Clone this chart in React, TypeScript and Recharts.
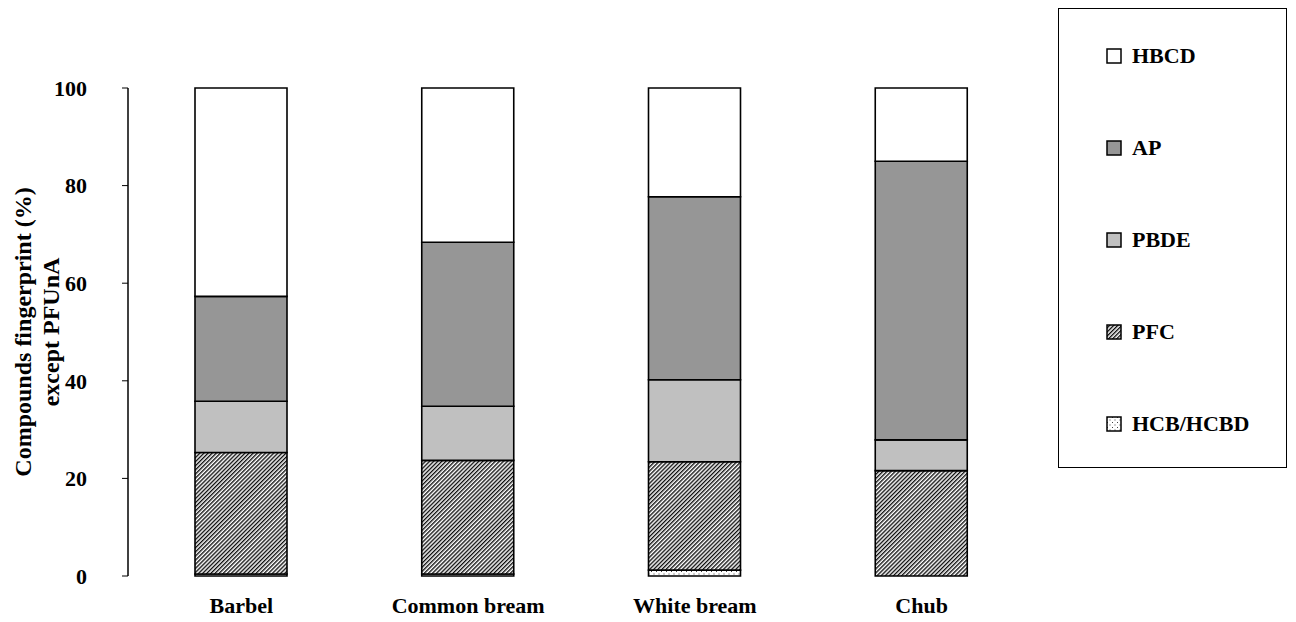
import React from 'react';
import { BarChart, Bar, XAxis, YAxis } from 'recharts';

const categories = ['Barbel', 'Common bream', 'White bream', 'Chub'];
const hcb = [0.4, 0.4, 1.2, 0];
const pfc = [24.9, 23.3, 22.2, 21.6];
const pbde = [10.5, 11.1, 16.8, 6.3];
const ap = [21.5, 33.6, 37.5, 57.1];
const hbcd = [42.7, 31.6, 22.3, 15.0];
const yTicks = [0, 20, 40, 60, 80, 100];
const boundaryTicks = [0, 1, 2, 3, 4];

const series = [
  { key: 'HCB/HCBD', fill: 'url(#dots)' },
  { key: 'PFC', fill: 'url(#hatch)' },
  { key: 'PBDE', fill: '#c0c0c0' },
  { key: 'AP', fill: '#969696' },
  { key: 'HBCD', fill: '#ffffff' },
];
const legendOrder = ['HBCD', 'AP', 'PBDE', 'PFC', 'HCB/HCBD'];

const data = categories.map((c, i) => ({
  name: c,
  'HCB/HCBD': hcb[i],
  PFC: pfc[i],
  PBDE: pbde[i],
  AP: ap[i],
  HBCD: hbcd[i],
}));

const FONT = '"Liberation Serif", "Times New Roman", serif';
const tickStyle = { fontFamily: FONT, fontSize: 22, fontWeight: 700, fill: '#000' };

const YLabel = (props: any) => {
  const vb = props.viewBox || {};
  const cy = (vb.y ?? 88) + (vb.height ?? 488) / 2;
  const x1 = 23;
  const x2 = 51;
  return (
    <g style={{ fontFamily: FONT, fontSize: 24, fontWeight: 700 }} fill="#000">
      <text x={x1} y={cy} textAnchor="middle" dominantBaseline="central" transform={`rotate(-90, ${x1}, ${cy})`}>
        Compounds fingerprint (%)
      </text>
      <text x={x2} y={cy} textAnchor="middle" dominantBaseline="central" transform={`rotate(-90, ${x2}, ${cy})`}>
        except PFUnA
      </text>
    </g>
  );
};

export default function App() {
  const fillOf = (k: string) => series.find((s) => s.key === k)!.fill;
  return (
    <div style={{ position: 'absolute', left: 0, top: 0, width: 1296, height: 622, background: '#fff' }}>
      <svg width={0} height={0} style={{ position: 'absolute' }}>
        <defs>
          <pattern id="hatch" width="2.9" height="2.9" patternUnits="userSpaceOnUse" patternTransform="rotate(45)">
            <rect width="2.9" height="2.9" fill="#fff" />
            <line x1="0.7" y1="0" x2="0.7" y2="2.9" stroke="#000" strokeWidth="1.3" />
          </pattern>
          <pattern id="dots" width="5" height="5" patternUnits="userSpaceOnUse">
            <rect width="5" height="5" fill="#fff" />
            <rect x="1" y="1" width="1" height="1" fill="#444" />
            <rect x="3.5" y="3.5" width="1" height="1" fill="#444" />
          </pattern>
        </defs>
      </svg>
      <BarChart
        width={1296}
        height={622}
        data={data}
        margin={{ top: 88, right: 261, bottom: 0, left: 0 }}
        barSize={92}
      >
        <XAxis
          xAxisId="grid"
          type="number"
          domain={[0, 4]}
          ticks={boundaryTicks}
          allowDataOverflow
          height={0}
          axisLine={{ stroke: '#808080', strokeWidth: 1.5 }}
          tickLine={{ stroke: '#000', strokeWidth: 1 }}
          tickSize={6}
          tickFormatter={() => ''}
        />
        <XAxis
          xAxisId="cat"
          dataKey="name"
          height={46}
          axisLine={false}
          tickLine={false}
          tickSize={0}
          tickMargin={21}
          tick={tickStyle}
          interval={0}
        />
        <YAxis
          width={128}
          domain={[0, 100]}
          ticks={yTicks}
          axisLine={{ stroke: '#000', strokeWidth: 1.5 }}
          tickLine={{ stroke: '#000', strokeWidth: 1 }}
          tickSize={6}
          tickMargin={35}
          tick={tickStyle}
          label={{ content: YLabel } as any}
        />
        {series.map((s) => (
          <Bar
            key={s.key}
            xAxisId="cat"
            dataKey={s.key}
            stackId="a"
            fill={s.fill}
            stroke="#000"
            strokeWidth={1.6}
            isAnimationActive={false}
          />
        ))}
      </BarChart>
      <div
        style={{
          position: 'absolute',
          left: 1058,
          top: 8,
          width: 229,
          height: 460,
          border: '1px solid #000',
          boxSizing: 'border-box',
          fontFamily: FONT,
          fontSize: 22,
          fontWeight: 700,
        }}
      >
        {legendOrder.map((k, i) => (
          <div
            key={k}
            style={{
              position: 'absolute',
              left: 47,
              top: 47 + i * 92 - 14,
              height: 28,
              display: 'flex',
              alignItems: 'center',
              whiteSpace: 'nowrap',
            }}
          >
            <svg width={16} height={16} style={{ marginRight: 10 }}>
              <rect x={1} y={1} width={14} height={14} fill={fillOf(k)} stroke="#000" strokeWidth={1.5} />
            </svg>
            <span>{k}</span>
          </div>
        ))}
      </div>
    </div>
  );
}
